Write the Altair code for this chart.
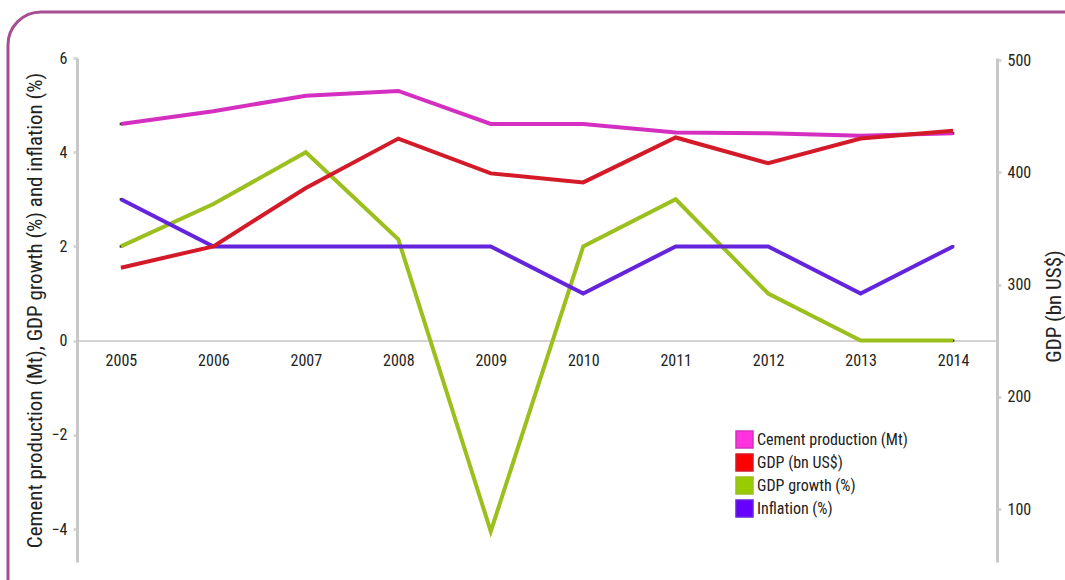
import altair as alt
import pandas as pd

years = [2005, 2006, 2007, 2008, 2009, 2010, 2011, 2012, 2013, 2014]
cement = [4.6, 4.87, 5.2, 5.3, 4.6, 4.6, 4.42, 4.4, 4.35, 4.4]
gdp = [315, 334, 386, 430, 399, 391, 431, 408, 430, 437]
growth = [2.0, 2.9, 4.0, 2.15, -4.05, 2.0, 3.0, 1.0, 0.0, 0.0]
inflation = [3.0, 2.0, 2.0, 2.0, 2.0, 1.0, 2.0, 2.0, 1.0, 2.0]

series_names = ["Cement production (Mt)", "GDP (bn US$)", "GDP growth (%)", "Inflation (%)"]
line_colors = ["#d42fc0", "#d41a28", "#9bbf1c", "#6424dc"]
legend_colors = ["#ff33dd", "#ff0000", "#99cc00", "#6600ff"]

left_axis_ticks = [-4, -2, 0, 2, 4, 6]
right_axis_ticks = [100, 200, 300, 400, 500]

FONT = "Liberation Sans Narrow, Roboto Condensed, Roboto, sans-serif"

left_rows = []
for name, vals in [("GDP growth (%)", growth), ("Inflation (%)", inflation), ("Cement production (Mt)", cement)]:
    for yr, v in zip(years, vals):
        left_rows.append({"year": yr, "value": v, "series": name})
left_df = pd.DataFrame(left_rows)
gdp_df = pd.DataFrame({"year": years, "value": gdp, "series": "GDP (bn US$)"})

W, H = 920, 504
LEFT_DOM = [-4.7, 6]
zero_y = H * (LEFT_DOM[1] - 0) / (LEFT_DOM[1] - LEFT_DOM[0])
x_offset = -(H - zero_y)

line_color = alt.Color(
    "series:N",
    scale=alt.Scale(domain=series_names, range=line_colors),
    legend=None,
)

legend_fill = alt.Fill(
    "series:N",
    scale=alt.Scale(domain=series_names, range=legend_colors),
    legend=alt.Legend(
        title=None,
        orient="none",
        legendX=658,
        legendY=372,
        symbolType="square",
        symbolSize=289,
        symbolStrokeColor="#333",
        symbolStrokeWidth=1.5,
        symbolOpacity=1,
        labelFont=FONT,
        labelFontSize=16,
        labelColor="#222",
        labelOffset=3,
        rowPadding=0,
        padding=0,
    ),
)

x = alt.X(
    "year:Q",
    scale=alt.Scale(domain=[2004.525, 2014.475], nice=False, zero=False),
    axis=alt.Axis(
        title=None, values=years, format="d", grid=False,
        offset=x_offset, domainColor="#d4d4d4", domainWidth=2,
        ticks=False, labelPadding=12, labelFont=FONT, labelFontSize=16,
        labelColor="#222",
    ),
)

left_y = alt.Y(
    "value:Q",
    scale=alt.Scale(domain=LEFT_DOM, nice=False, zero=False),
    axis=alt.Axis(
        title="Cement production (Mt), GDP growth (%) and inflation (%)",
        values=left_axis_ticks, grid=False, domainColor="#c8c8c8", domainWidth=3,
        tickColor="#d8d8d8", tickSize=4, tickWidth=3, labelPadding=6,
        labelFont=FONT, labelFontSize=16, labelColor="#222",
        titleFont=FONT, titleFontSize=21, titleFontWeight="normal",
        titleColor="#222", titlePadding=6,
    ),
)

frame = alt.Chart(pd.DataFrame({"a": [0]})).mark_rect(
    fill=None, stroke="#a64d93", strokeWidth=3, cornerRadius=33, clip=False
).encode(
    x=alt.value(-69), x2=alt.value(1030), y=alt.value(-46), y2=alt.value(560)
)

# tiny squares under the lines: they drive the filled-square legend
legend_pts = alt.Chart(left_df).mark_square(
    size=1, filled=True, opacity=1, stroke="#333", strokeWidth=1.5
).encode(x=x, y=left_y, fill=legend_fill)

left = alt.Chart(left_df).mark_line(strokeWidth=4).encode(
    x=x, y=left_y, color=line_color, detail="series:N",
)

right = alt.Chart(gdp_df).mark_line(strokeWidth=4).encode(
    x=x,
    y=alt.Y(
        "value:Q",
        scale=alt.Scale(domain=[52.8, 501.8], nice=False, zero=False),
        axis=alt.Axis(
            orient="right",
            title="GDP (bn US$)",
            values=right_axis_ticks, grid=False, domainColor="#c8c8c8", domainWidth=3,
            tickColor="#d8d8d8", tickSize=4, tickWidth=3, labelPadding=6,
            labelFont=FONT, labelFontSize=16, labelColor="#222",
            titleFont=FONT, titleFontSize=21, titleFontWeight="normal",
            titleColor="#222", titleAngle=270, titleX=57, titleY=248,
            titleBaseline="middle", titleAlign="center",
        ),
    ),
    color=line_color,
)

leftgroup = alt.layer(legend_pts, left)

chart = alt.layer(frame, leftgroup, right).resolve_scale(y="independent").properties(
    width=W,
    height=H,
    autosize=alt.AutoSizeParams(type="none"),
    padding={"left": 77, "top": 58, "right": 68, "bottom": 18},
    background="white",
).configure_view(stroke=None)

chart.save("out.html", embed_options={"renderer": "svg", "actions": False})
